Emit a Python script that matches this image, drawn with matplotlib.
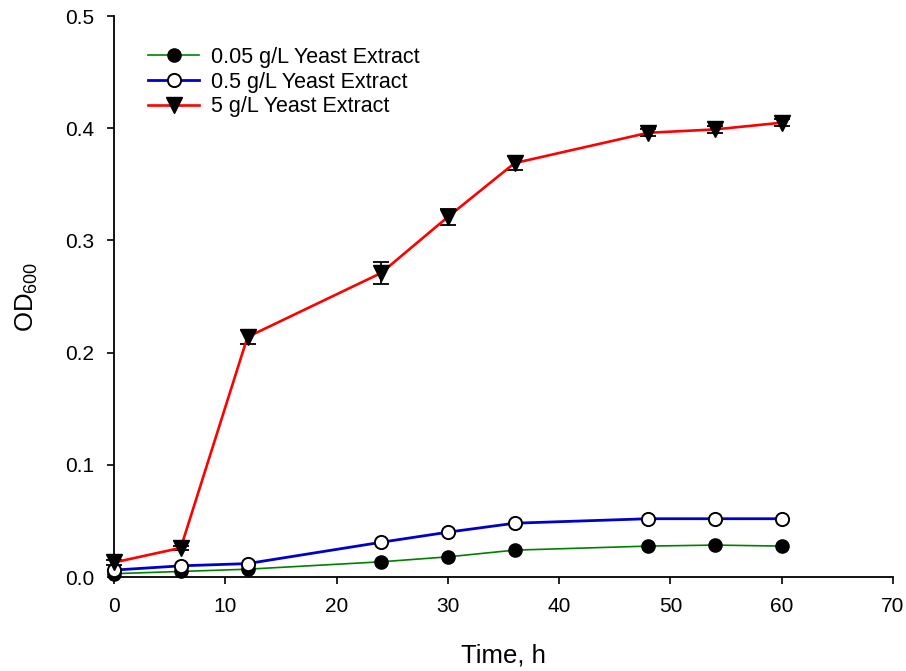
import matplotlib
matplotlib.use("Agg")
import matplotlib.pyplot as plt
from matplotlib.lines import Line2D

plt.rcParams['font.family'] = ['Liberation Sans', 'DejaVu Sans']
plt.rcParams['mathtext.fontset'] = 'custom'
plt.rcParams['mathtext.rm'] = 'Liberation Sans'
plt.rcParams['mathtext.default'] = 'regular'

# Sampling times (h)
time_h = [0, 6, 12, 24, 30, 36, 48, 54, 60]

# OD600 readings for each yeast extract concentration
od_005 = [0.003, 0.005, 0.007, 0.0136, 0.018, 0.024, 0.0276, 0.0285, 0.0276]
od_05 = [0.0062, 0.010, 0.012, 0.031, 0.040, 0.048, 0.052, 0.052, 0.052]
od_5 = [0.013, 0.026, 0.214, 0.271, 0.321, 0.369, 0.396, 0.399, 0.405]
err_5 = [0.002, 0.002, 0.006, 0.010, 0.007, 0.006, 0.003, 0.003, 0.003]

labels = ['0.05 g/L Yeast Extract', '0.5 g/L Yeast Extract', '5 g/L Yeast Extract']

green_style = dict(color='green', lw=1.2, marker='o', ms=9.5, mfc='black', mec='black')
blue_style = dict(color='#0000cc', lw=2.0, marker='o', ms=9.5, mfc='white',
                  mec='black', mew=1.4)
red_style = dict(color='red', lw=1.9, marker='v', ms=11.5, mfc='black', mec='black')

fig = plt.figure(figsize=(9.06, 6.71), dpi=100)
ax = fig.add_axes([0.1258, 0.140, 0.8599, 0.836])

ax.plot(time_h, od_005, clip_on=False, zorder=3, **green_style)
ax.plot(time_h, od_05, clip_on=False, zorder=4, **blue_style)
ax.errorbar(time_h, od_5, yerr=err_5, ecolor='black', elinewidth=1.3,
            capsize=6, capthick=1.3, clip_on=False, zorder=5, **red_style)

ax.set_xlim(0, 70)
ax.set_ylim(0, 0.5)
ax.set_xticks(range(0, 71, 10))
ax.set_yticks([0.0, 0.1, 0.2, 0.3, 0.4, 0.5])
ax.set_yticklabels(['0.0', '0.1', '0.2', '0.3', '0.4', '0.5'])

for side in ('top', 'right'):
    ax.spines[side].set_visible(False)
for side in ('left', 'bottom'):
    ax.spines[side].set_linewidth(1.3)

ax.tick_params(direction='out', length=5, width=1.2, labelsize=15, pad=9)

ax.set_xlabel('Time, h', fontsize=18.5, labelpad=20)
ax.set_ylabel('OD$_{600}$', fontsize=18.5, labelpad=18)

# Legend entries show only the line and marker, without error bars
handles = [Line2D([], [], **green_style),
           Line2D([], [], **blue_style),
           Line2D([], [], **red_style)]
ax.legend(handles, labels, loc='upper left', bbox_to_anchor=(0.024, 0.972),
          frameon=False, fontsize=15.5, handlelength=2.4, handletextpad=0.55,
          labelspacing=0.17, borderaxespad=0.3)

fig.savefig('out.png', dpi=100)
